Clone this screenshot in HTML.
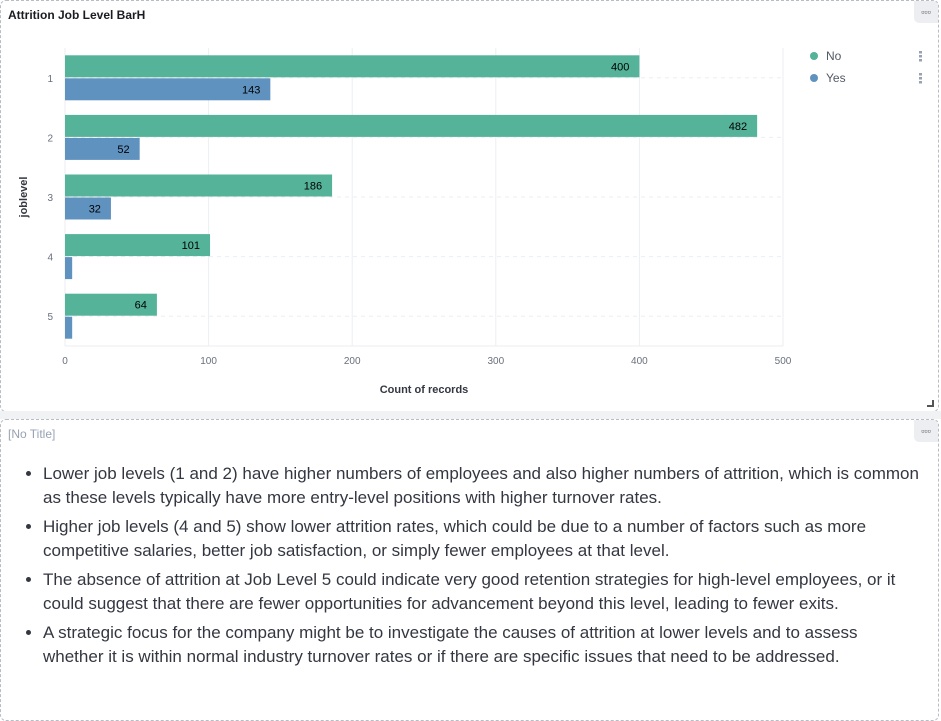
<!DOCTYPE html>
<html><head><meta charset="utf-8"><style>
body{margin:0;width:941px;height:712px;overflow:hidden;background:#fff;font-family:"Liberation Sans",sans-serif;position:relative}
.panel{position:absolute;left:0;width:937px;border:1px dashed #b8bcc4;border-radius:6px;background:#fff}
.menu{position:absolute;right:0;top:0;width:24px;height:22px;background:#eceef2;border-radius:0 5px 0 5px;font-size:9px;color:#444;text-align:center;line-height:22px}
ul{margin:0;padding:0 0 0 42px;font-size:17px;color:#343741;line-height:24px}
li{margin-bottom:5px}
</style></head><body>
<div class="panel" style="top:0;height:410px;">
  <div style="position:absolute;left:7px;top:7px;font-size:12px;font-weight:bold;color:#1a1c21">Attrition Job Level BarH</div>
  <div class="menu">▫▫▫</div>
  <svg id="chart" width="937" height="410" style="position:absolute;left:-1px;top:0"></svg>
  <div style="position:absolute;right:4px;bottom:4px;width:5px;height:5px;border-right:2px solid #555;border-bottom:2px solid #555"></div>
</div>
<div style="position:absolute;left:0;top:411px;width:941px;height:8px;background:#f1f2f4"></div>
<div class="panel" style="top:419px;height:300px;">
  <div style="position:absolute;left:7px;top:7px;font-size:12px;color:#98a2b3">[No Title]</div>
  <div class="menu">▫▫▫</div>
  <ul style="position:absolute;top:42px;left:0;width:921px;box-sizing:border-box">
    <li>Lower job levels (1 and 2) have higher numbers of employees and also higher numbers of attrition, which is common as these levels typically have more entry-level positions with higher turnover rates.</li>
    <li>Higher job levels (4 and 5) show lower attrition rates, which could be due to a number of factors such as more competitive salaries, better job satisfaction, or simply fewer employees at that level.</li>
    <li>The absence of attrition at Job Level 5 could indicate very good retention strategies for high-level employees, or it could suggest that there are fewer opportunities for advancement beyond this level, leading to fewer exits.</li>
    <li>A strategic focus for the company might be to investigate the causes of attrition at lower levels and to assess<br>whether it is within normal industry turnover rates or if there are specific issues that need to be addressed.</li>
  </ul>
</div>
<script>
const categories=["1","2","3","4","5"];
const noValues=[400,482,186,101,64];
const yesValues=[143,52,32,5,5];
const xTicks=[0,100,200,300,400,500];
const NS="http://www.w3.org/2000/svg";
const svg=document.getElementById('chart');
const x0=65,x1=783,plotTop=47,plotBottom=345;
const xs=v=>x0+(v/500)*(x1-x0);
const band=(plotBottom-plotTop)/categories.length;
function mk(t,a,txt){const e=document.createElementNS(NS,t);for(const k in a)e.setAttribute(k,a[k]);if(txt!=null)e.textContent=txt;svg.appendChild(e);return e;}
xTicks.forEach(t=>{
  const g=mk('line',{x1:xs(t),x2:xs(t),y1:plotTop,y2:plotBottom,stroke:'#eceef2'});
  
  
  const l=mk('text',{x:xs(t),y:plotBottom+18,'font-size':10,fill:'#69707d','text-anchor':'middle'},t);
  
  
});
mk('line',{x1:x0,x2:x1,y1:plotBottom,y2:plotBottom,stroke:'#eceef2'});
categories.forEach((c,i)=>{
  const cy=plotTop+band*i+band/2;
  mk('line',{x1:x0,x2:x1,y1:cy,y2:cy,stroke:'#eceef2','stroke-dasharray':'4,4'});
  const l=mk('text',{x:53,y:cy+4,'font-size':10,fill:'#69707d','text-anchor':'end'},c);
  
  
  const h=22;
  const g=mk('rect',{x:x0,y:cy-h-0.5,width:xs(noValues[i])-x0,height:h,fill:'#54b399'});
  
  
  const b=mk('rect',{x:x0,y:cy+0.5,width:xs(yesValues[i])-x0,height:h,fill:'#6092c0'});
  
  
  const t1=mk('text',{x:xs(noValues[i])-10,y:cy-h/2+3.5,'font-size':11,fill:'#000','text-anchor':'end'},noValues[i]);
  
  
  if(yesValues[i]>20){const t2=mk('text',{x:xs(yesValues[i])-10,y:cy+h/2+4.5,'font-size':11,fill:'#000','text-anchor':'end'},yesValues[i]);
  
  }
});
const xt=mk('text',{x:(x0+x1)/2,y:392,'font-size':11,'font-weight':'bold',fill:'#343741','text-anchor':'middle'},'Count of records');


const yt=mk('text',{x:0,y:0,'font-size':11,'font-weight':'bold',fill:'#343741','text-anchor':'middle',transform:'translate(27,196) rotate(-90)'},'joblevel');


[['No','#54b399',55],['Yes','#6092c0',77]].forEach(([n,c,y])=>{
  const d=mk('circle',{cx:814,cy:y,r:4,fill:c});
  
  
  const t=mk('text',{x:826,y:y+4,'font-size':12,fill:'#535966'},n);
  
  
  [-4,0,4].forEach(o=>mk('rect',{x:919,y:y+o-1,width:3,height:2.5,fill:'#98a2b3'}));
});
</script>
</body></html>
